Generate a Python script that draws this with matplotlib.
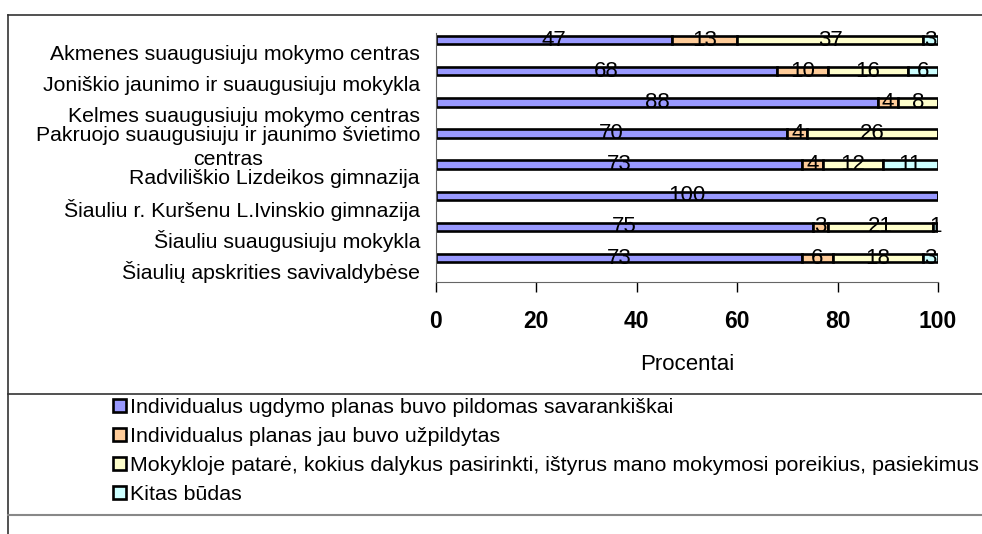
import matplotlib
matplotlib.use("Agg")
import matplotlib.pyplot as plt
from matplotlib.lines import Line2D

plt.rcParams['font.family'] = ['Liberation Sans', 'DejaVu Sans']

categories = [
    'Akmenes suaugusiuju mokymo centras',
    'Joniškio jaunimo ir suaugusiuju mokykla',
    'Kelmes suaugusiuju mokymo centras',
    'Pakruojo suaugusiuju ir jaunimo švietimo\ncentras',
    'Radviliškio Lizdeikos gimnazija',
    'Šiauliu r. Kuršenu L.Ivinskio gimnazija',
    'Šiauliu suaugusiuju mokykla',
    'Šiaulių apskrities savivaldybėse',
]
series_names = [
    'Individualus ugdymo planas buvo pildomas savarankiškai',
    'Individualus planas jau buvo užpildytas',
    'Mokykloje patarė, kokius dalykus pasirinkti, ištyrus mano mokymosi poreikius, pasiekimus',
    'Kitas būdas',
]
savarankiskai = [47, 68, 88, 70, 73, 100, 75, 73]
uzpildytas = [13, 10, 4, 4, 4, 0, 3, 6]
patare = [37, 16, 8, 26, 12, 0, 21, 18]
kitas = [3, 6, 0, 0, 11, 0, 1, 3]
colors = ['#9999FF', '#FFCC99', '#FFFFCC', '#CCFFFF']

fig = plt.figure(figsize=(9.82, 5.34), dpi=100)
ax = fig.add_axes([436/982, 1-282/534, (938-436)/982, (282-33)/534])

y = list(range(len(categories)))
left = [0]*len(categories)
containers = []
for vals, col, name in zip([savarankiskai, uzpildytas, patare, kitas], colors, series_names):
    bars = ax.barh(y, vals, left=left, height=0.27, color=col, edgecolor='black', linewidth=1.9, label=name)
    containers.append(bars)
    for yi, l, v in zip(y, left, vals):
        if v > 0:
            ax.text(l + v/2, yi, str(v), ha='center', va='center', fontsize=16, color='black')
    left = [a + b for a, b in zip(left, vals)]

ax.set_xlim(0, 100)
ax.set_ylim(7.77, -0.23)
ax.set_xticks([0, 20, 40, 60, 80, 100])
ax.tick_params(axis='x', direction='out', length=7, width=1, pad=13, labelsize=16.5)
for t in ax.get_xticklabels():
    t.set_fontweight('bold')
ax.set_yticks([])
ax.set_xlabel('Procentai', fontsize=16, labelpad=15)
for s in ['top', 'right']:
    ax.spines[s].set_visible(False)
ax.spines['left'].set_color('#666666')
ax.spines['bottom'].set_color('#666666')

for yi, name in zip(y, categories):
    ax.text(-0.032, yi + 0.45, name, transform=ax.get_yaxis_transform(), ha='right', va='center',
            fontsize=15.3, linespacing=1.28, multialignment='center')

# frame lines
fig.add_artist(Line2D([8/982, 1], [1-15/534]*2, transform=fig.transFigure, color='#333333', lw=1.2))
fig.add_artist(Line2D([8/982]*2, [0, 1-15/534], transform=fig.transFigure, color='#333333', lw=1.2))
fig.add_artist(Line2D([8/982, 1], [1-394/534]*2, transform=fig.transFigure, color='#333333', lw=1.2))
fig.add_artist(Line2D([8/982, 1], [1-515/534]*2, transform=fig.transFigure, color='#888888', lw=1.5))

fig.legend(handles=containers, labels=series_names, loc='upper left',
           bbox_to_anchor=(113/982, 1-398/534), frameon=False, fontsize=15.4,
           handlelength=0.6, handleheight=0.6, handletextpad=0.2, labelspacing=0.47,
           borderaxespad=0, borderpad=0)

fig.savefig('out.png', dpi=100)
